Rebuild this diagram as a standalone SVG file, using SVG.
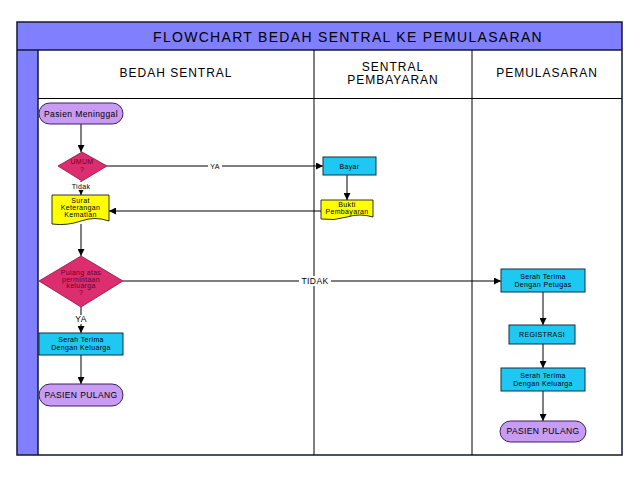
<svg xmlns="http://www.w3.org/2000/svg" width="638" height="479" viewBox="0 0 638 479">
<style>
text{font-family:"Liberation Sans",Arial,sans-serif;fill:#000;text-anchor:middle}
.hdr{font-size:12px;letter-spacing:1px}
.ttl{font-size:14px;letter-spacing:1.3px}
.t7{font-size:7px;letter-spacing:0.35px}
.t8{font-size:8.5px;letter-spacing:0.4px}
.dt{font-size:7px;letter-spacing:0.3px;fill:#6a0028}
.term{fill:#c89cf2;stroke:#3a2060;stroke-width:1}
.dia{fill:#dc2e6e;stroke:#8a1040;stroke-width:0.8}
.proc{fill:#1ec8f2;stroke:#103040;stroke-width:1}
.doc{fill:#ffff00;stroke:#000;stroke-width:0.8}
.ln{stroke:#000;stroke-width:1;fill:none}
.frame{stroke:#101830;stroke-width:1.5;fill:none}
</style>
<defs>
<marker id="ah" viewBox="0 0 10 10" refX="10" refY="5" markerWidth="7" markerHeight="7" markerUnits="userSpaceOnUse" orient="auto">
<path d="M0,0 L10,5 L0,10 z" fill="#000"/>
</marker>
</defs>
<rect width="638" height="479" fill="#fff"/>
<g id="frame">
<rect x="17" y="22" width="605" height="28" fill="#8080ff"/>
<rect x="17" y="50" width="21" height="405" fill="#8080ff"/>
<rect x="17" y="22" width="605" height="433" class="frame"/>
<line x1="17" y1="50" x2="622" y2="50" class="frame"/>
<line x1="38" y1="50" x2="38" y2="455" class="frame"/>
<line x1="38" y1="98.5" x2="622" y2="98.5" class="ln"/>
<line x1="314" y1="50" x2="314" y2="455" class="ln"/>
<line x1="472" y1="50" x2="472" y2="455" class="ln"/>
<text x="348" y="42" class="ttl">FLOWCHART BEDAH SENTRAL KE PEMULASARAN</text>
<text x="176" y="77" class="hdr">BEDAH SENTRAL</text>
<text x="393" y="71" class="hdr">SENTRAL</text>
<text x="393" y="84" class="hdr">PEMBAYARAN</text>
<text x="547" y="77" class="hdr">PEMULASARAN</text>
</g>
<g id="connectors">
<line x1="81" y1="124" x2="81" y2="152" class="ln" marker-end="url(#ah)"/>
<line x1="107" y1="166" x2="323" y2="166" class="ln" marker-end="url(#ah)"/>
<line x1="81" y1="181" x2="81" y2="195" class="ln" marker-end="url(#ah)"/>
<line x1="347" y1="175" x2="347" y2="200" class="ln" marker-end="url(#ah)"/>
<line x1="321" y1="211" x2="109" y2="211" class="ln" marker-end="url(#ah)"/>
<line x1="81" y1="224" x2="81" y2="256" class="ln" marker-end="url(#ah)"/>
<line x1="123" y1="281" x2="501" y2="281" class="ln" marker-end="url(#ah)"/>
<line x1="81" y1="307" x2="81" y2="333" class="ln" marker-end="url(#ah)"/>
<line x1="81" y1="355" x2="81" y2="384" class="ln" marker-end="url(#ah)"/>
<line x1="543" y1="292" x2="543" y2="325" class="ln" marker-end="url(#ah)"/>
<line x1="543" y1="344" x2="543" y2="368" class="ln" marker-end="url(#ah)"/>
<line x1="543" y1="391" x2="543" y2="421" class="ln" marker-end="url(#ah)"/>
<rect x="208" y="162" width="14" height="8" fill="#fff"/>
<text x="215" y="168.5" class="t7">YA</text>
<rect x="299" y="276" width="32" height="10" fill="#fff"/>
<text x="315" y="284" class="t8">TIDAK</text>
<rect x="72" y="182" width="19" height="8" fill="#fff"/>
<text x="81" y="188.5" class="t7">Tidak</text>
<rect x="74" y="315" width="14" height="9" fill="#fff"/>
<text x="81" y="322" class="t8">YA</text>
</g>
<g id="n-pasien-meninggal">
<rect x="39" y="103" width="84" height="21" rx="10.5" class="term"/>
<text x="81" y="116.5" class="t8">Pasien Meninggal</text>
</g>
<g id="n-umum">
<polygon points="82,152 107,166 82,181 58,166" class="dia"/>
<text x="82" y="164" class="dt">UMUM</text>
<text x="82" y="172" class="dt">?</text>
</g>
<g id="n-bayar">
<rect x="323" y="157" width="53" height="18" class="proc"/>
<text x="349.5" y="168.5" class="t7">Bayar</text>
</g>
<g id="n-bukti">
<path d="M321,200 H373 V217 Q360,213 347,217 T321,219 Z" class="doc"/>
<text x="347" y="207" class="t7">Bukti</text>
<text x="347" y="214" class="t7">Pembayaran</text>
</g>
<g id="n-surat">
<path d="M52,195 H109 V221 Q95,216 81,221 T52,224 Z" class="doc"/>
<text x="80.5" y="203" class="t7">Surat</text>
<text x="80.5" y="210" class="t7">Keterangan</text>
<text x="80.5" y="217" class="t7">Kematian</text>
</g>
<g id="n-pulang-atas">
<polygon points="81,256 123,281 81,307 39,281" class="dia"/>
<text x="81" y="275" class="dt">Pulang atas</text>
<text x="81" y="281.5" class="dt">permintaan</text>
<text x="81" y="288" class="dt">keluarga</text>
<text x="81" y="294.5" class="dt">?</text>
</g>
<g id="n-serah-keluarga-1">
<rect x="39" y="333" width="84" height="22" class="proc"/>
<text x="81" y="342" class="t7">Serah Terima</text>
<text x="81" y="350" class="t7">Dengan Keluarga</text>
</g>
<g id="n-pasien-pulang-1">
<rect x="39" y="384" width="84" height="22" rx="11" class="term"/>
<text x="81" y="397.5" class="t8">PASIEN PULANG</text>
</g>
<g id="n-serah-petugas">
<rect x="501" y="269" width="84" height="23" class="proc"/>
<text x="543" y="278.5" class="t7">Serah Terima</text>
<text x="543" y="286.5" class="t7">Dengan Petugas</text>
</g>
<g id="n-registrasi">
<rect x="509" y="325" width="66" height="19" class="proc"/>
<text x="542" y="337" class="t7">REGISTRASI</text>
</g>
<g id="n-serah-keluarga-2">
<rect x="501" y="368" width="84" height="23" class="proc"/>
<text x="543" y="377.5" class="t7">Serah Terima</text>
<text x="543" y="385.5" class="t7">Dengan Keluarga</text>
</g>
<g id="n-pasien-pulang-2">
<rect x="500" y="421" width="86" height="21" rx="10.5" class="term"/>
<text x="543" y="434" class="t8">PASIEN PULANG</text>
</g>
</svg>
